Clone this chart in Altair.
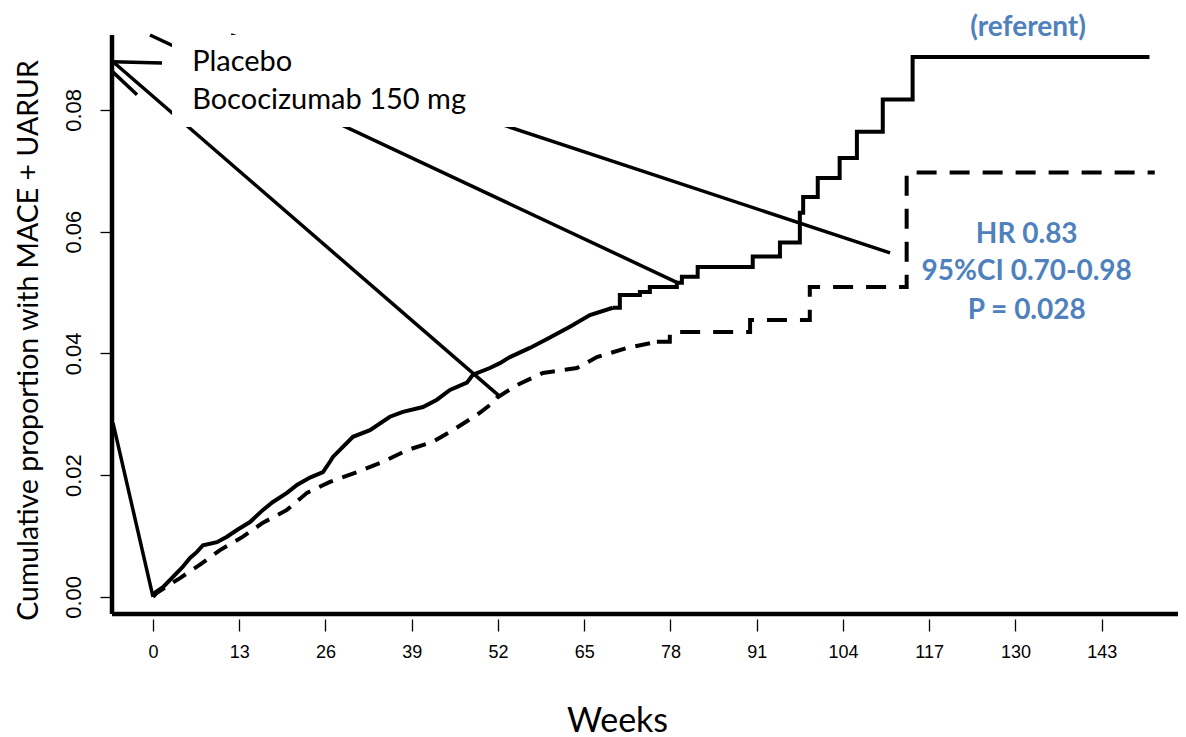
import altair as alt
import pandas as pd

# ---- data (weeks, cumulative proportion) ----
placebo_weeks = [0, 0.30, 1.51, 3.01, 4.37, 5.58, 6.63, 7.53, 9.64, 11.15, 12.66, 14.62, 16.58,
                 18.08, 20.19, 21.70, 23.66, 25.62, 26.67, 27.12, 30.14, 32.70, 35.71, 37.67,
                 40.69, 42.80, 44.76, 47.32, 48.22, 50.78, 52.29, 53.80, 56.81, 59.83, 62.84,
                 65.86, 69.32,
                 70.37, 73.39, 74.89, 78.96, 79.72, 82.1, 90.4, 94.5, 97.5, 98.0, 100.2, 103.5,
                 106.1, 110.0, 114.5, 150.2]
placebo_vals = [0, 0.0007, 0.0016, 0.0033, 0.0048, 0.0064, 0.0074, 0.0085, 0.0090, 0.0099,
                0.0110, 0.0123, 0.0143, 0.0156, 0.0171, 0.0184, 0.0196, 0.0205, 0.0222, 0.0230,
                0.0263, 0.0274, 0.0296, 0.0304, 0.0312, 0.0324, 0.0340, 0.0352, 0.0365, 0.0376,
                0.0384, 0.0394, 0.0409, 0.0426, 0.0444, 0.0463, 0.0475,
                0.0496, 0.0501, 0.0509, 0.0516, 0.0526, 0.0542, 0.0559, 0.0582, 0.0631, 0.0657,
                0.0688, 0.0721, 0.0764, 0.0817, 0.0887, 0.0887]
PLACEBO_STEPS_FROM = 69.32  # clearly visible steps after this week

boco_weeks = [0, 0.6, 4.07, 7.08, 10.10, 13.56, 16.58, 20.19, 23.21, 26.67, 30.74, 34.66, 38.28,
              42.19, 45.21, 48.82, 51.24, 51.84, 54.85, 58.77, 63.89, 66.91, 71.43, 75.95,
              77.9, 90.0, 99.0, 113.6, 151.0]
boco_vals = [0, 0.0007, 0.0031, 0.0053, 0.0077, 0.0099, 0.0122, 0.0143, 0.0171, 0.0189, 0.0205,
             0.0222, 0.0241, 0.0255, 0.0274, 0.0299, 0.0319, 0.0327, 0.0348, 0.0368, 0.0376,
             0.0394, 0.0409, 0.0419, 0.0435, 0.0455, 0.0509, 0.0697, 0.0697]
BOCO_STEPS_FROM = 75.95

# pointer / leader lines (data units)
seg_x1 = [-6.03, -0.45, 11.75, -6.03, -6.03, -6.03]
seg_y1 = [0.0879, 0.0923, 0.0923, 0.0286, 0.0879, 0.0862]
seg_x2 = [52.3, 79.1, 111.1, 0.0, 1.36, -2.41]
seg_y2 = [0.0329, 0.0516, 0.0565, 0.0, 0.0877, 0.0825]

x_ticks = [0, 13, 26, 39, 52, 65, 78, 91, 104, 117, 130, 143]
y_ticks = [0.0, 0.02, 0.04, 0.06, 0.08]

legend_labels = ["Placebo", "Bococizumab 150 mg"]
legend_x = [5.9, 5.9]
legend_y = [0.0879, 0.0816]

stat_labels = ["(referent)", "HR 0.83", "95%CI 0.70-0.98", "P = 0.028"]
stat_x = [131.9, 131.7, 131.7, 131.7]
stat_y = [0.0934, 0.0595, 0.0534, 0.0470]

X_MIN, X_MAX = -6.18, 154.5
Y_MIN, Y_MAX = -0.0028, 0.0923
BOX = dict(x=2.87, x2=54.7, y=0.0772, y2=Y_MAX)

HUM = "Lato"
ARIAL = "Liberation Sans"
BLUE = "#4F81BD"

xs = alt.Scale(domain=[X_MIN, X_MAX], nice=False, zero=False)
ys = alt.Scale(domain=[Y_MIN, Y_MAX], nice=False, zero=False)

pl = pd.DataFrame({"week": placebo_weeks, "p": placebo_vals})
bo = pd.DataFrame({"week": boco_weeks, "p": boco_vals})
pl_early = pl[pl.week <= PLACEBO_STEPS_FROM]
pl_late = pl[pl.week >= PLACEBO_STEPS_FROM]
bo_early = bo[bo.week <= BOCO_STEPS_FROM]
bo_late = bo[bo.week >= BOCO_STEPS_FROM]

segs = pd.DataFrame({"x": seg_x1, "y": seg_y1, "x2": seg_x2, "y2": seg_y2})
leg = pd.DataFrame({"x": legend_x, "y": legend_y, "t": legend_labels})
stats = pd.DataFrame({"x": stat_x, "y": stat_y, "t": stat_labels})
box = pd.DataFrame([BOX])
axes_df = pd.DataFrame({"x": [X_MIN], "x2": [X_MAX], "y": [Y_MIN], "y2": [Y_MAX]})

x_axis = alt.Axis(values=x_ticks, domain=False, grid=False, tickSize=12, offset=5,
                  tickColor="black", tickWidth=1.3, labelFont=ARIAL, labelFontSize=18,
                  labelColor="black", labelPadding=12, title="Weeks", titleFont=HUM,
                  titleFontSize=34, titleFontWeight="normal", titleColor="black",
                  titleX=505, titleY=112, titleBaseline="alphabetic", titleAlign="center")
y_axis = alt.Axis(values=y_ticks, format=".2f", domain=False, grid=False, tickSize=12,
                  tickColor="black", tickWidth=1.3, labelFont=ARIAL, labelFontSize=22,
                  labelColor="black", labelAngle=270, labelAlign="center",
                  labelBaseline="alphabetic", labelPadding=20,
                  title="Cumulative proportion with MACE + UARUR", titleFont=HUM,
                  titleFontSize=28.5, titleFontWeight="normal", titleColor="black",
                  titleAngle=270, titleAlign="center", titleBaseline="alphabetic",
                  titleX=-75, titleY=305)


def curve(df, interp, dash=None, axes=False):
    kw = dict(interpolate=interp, color="black", strokeWidth=4)
    if dash:
        kw["strokeDash"] = dash
    if axes:
        enc_x = alt.X("week:Q", scale=xs, axis=x_axis)
        enc_y = alt.Y("p:Q", scale=ys, axis=y_axis)
    else:
        enc_x = alt.X("week:Q", scale=xs)
        enc_y = alt.Y("p:Q", scale=ys)
    return alt.Chart(df).mark_line(**kw).encode(x=enc_x, y=enc_y)


placebo_a = curve(pl_early, "linear", axes=True)
placebo_b = curve(pl_late, "step-after")
boco_a = curve(bo_early, "linear", dash=[15, 10])
boco_b = curve(bo_late, "step-after", dash=[20, 13])

pointers = alt.Chart(segs).mark_rule(color="black", strokeWidth=3.5).encode(
    x=alt.X("x:Q", scale=xs), y=alt.Y("y:Q", scale=ys), x2="x2:Q", y2="y2:Q")

white_box = alt.Chart(box).mark_rect(fill="white").encode(
    x=alt.X("x:Q", scale=xs), x2="x2:Q", y=alt.Y("y:Q", scale=ys), y2="y2:Q")

bottom_axis = alt.Chart(axes_df).mark_rule(color="black", strokeWidth=4.5).encode(
    x=alt.X("x:Q", scale=xs), x2="x2:Q", y=alt.Y("y:Q", scale=ys))
left_axis = alt.Chart(axes_df).mark_rule(color="black", strokeWidth=4.5).encode(
    x=alt.X("x:Q", scale=xs), y=alt.Y("y:Q", scale=ys), y2="y2:Q")

legend_text = alt.Chart(leg).mark_text(align="left", baseline="middle", font=HUM,
                                       fontSize=29, color="black").encode(
    x=alt.X("x:Q", scale=xs), y=alt.Y("y:Q", scale=ys), text="t:N")

stat_text = alt.Chart(stats).mark_text(align="center", baseline="middle", font=HUM,
                                       fontSize=28, fontWeight="bold", color=BLUE).encode(
    x=alt.X("x:Q", scale=xs), y=alt.Y("y:Q", scale=ys), text="t:N")

chart = alt.layer(
    placebo_a, placebo_b, boco_a, boco_b, pointers, white_box, bottom_axis, left_axis,
    legend_text, stat_text
).properties(
    width=1066, height=579,
    padding={"left": 104, "top": 27, "right": 0, "bottom": 123},
    autosize=alt.AutoSizeParams(type="none"),
    background="white",
).configure_view(stroke=None)

chart.save("out.html", embed_options={"renderer": "svg", "actions": False})
